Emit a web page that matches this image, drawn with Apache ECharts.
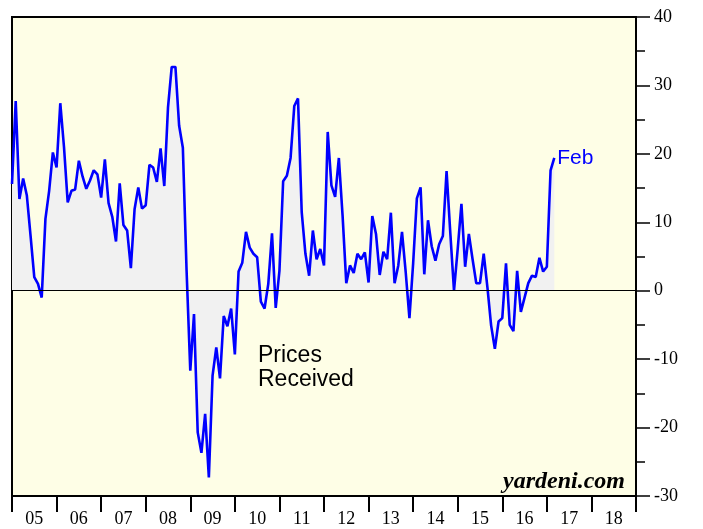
<!DOCTYPE html>
<html>
<head>
<meta charset="utf-8">
<script src="https://cdn.jsdelivr.net/npm/echarts@6/dist/echarts.min.js"></script>
<style>
  html, body { margin: 0; padding: 0; background: #ffffff; }
  #chart { width: 703px; height: 529px; }
</style>
</head>
<body>
<div id="chart"></div>
<script>
// year labels along the bottom (one slot per year, 2005..2018)
const yearLabels = ['05', '06', '07', '08', '09', '10', '11', '12', '13', '14', '15', '16', '17', '18']

// Prices Received index, monthly, month-end Dec 2004 .. Feb 2017
const pricesReceived = [
  15.6, 27.7, 13.4, 16.4, 13.9, 8.0, 2.0, 1.0, -1.0, 10.5, 14.6, 20.2, 18.0,
  27.4, 21.0, 12.9, 14.6, 14.8, 19.0, 16.7, 14.9, 16.1, 17.6, 17.0, 13.6,
  19.2, 12.8, 10.8, 7.2, 15.7, 9.6, 8.8, 3.3, 11.9, 15.1, 12.0, 12.5,
  18.4, 18.0, 15.9, 20.8, 15.3, 26.8, 32.7, 32.7, 24.1, 20.9, 3.0, -11.7,
  -3.4, -20.7, -23.7, -18.0, -27.3, -12.4, -8.3, -12.8, -3.7, -5.2, -2.6, -9.3,
  2.8, 4.1, 8.6, 6.3, 5.4, 4.9, -1.6, -2.6, 1.0, 8.4, -2.5, 2.9,
  16.0, 16.8, 19.4, 27.0, 28.1, 11.5, 5.4, 2.2, 8.8, 4.6, 6.1, 3.7,
  23.2, 15.4, 13.7, 19.4, 11.0, 1.1, 3.7, 2.6, 5.4, 4.6, 5.6, 1.2,
  10.9, 8.3, 2.3, 5.7, 4.6, 11.4, 1.1, 3.7, 8.6, 2.7, -4.0, 4.0,
  13.5, 15.1, 2.4, 10.3, 6.5, 4.4, 6.8, 8.0, 17.5, 8.5, 0.0, 6.1,
  12.7, 3.5, 8.3, 4.6, 1.1, 1.1, 5.4, 0.5, -5.1, -8.5, -4.5, -4.0,
  4.0, -5.0, -5.9, 2.9, -3.1, -1.0, 1.1, 2.2, 2.0, 4.8, 2.8, 3.5,
  17.6, 19.4
]

const yTicks = { min: -30, max: 40, step: 10 }
const lastLabel = 'Feb'

const serif = '"Liberation Serif", "DejaVu Serif", serif'
const sans = '"Liberation Sans", Arial, sans-serif'

// x = months since start (point 0 sits on the left edge)
const seriesData = pricesReceived.map((v, i) => [i, v])

const chart = echarts.init(document.getElementById('chart'), null, { renderer: 'canvas' })

chart.setOption({
  backgroundColor: '#ffffff',
  animation: false,
  grid: {
    left: 12, right: 67, top: 17, bottom: 33,
    show: true,
    backgroundColor: '#fefee6',
    borderColor: '#000000',
    borderWidth: 2
  },
  xAxis: [
    {
      type: 'value', min: 0, max: yearLabels.length * 12,
      show: false,
      axisLine: { onZero: false }
    },
    {
      type: 'category', data: yearLabels, position: 'bottom',
      boundaryGap: true,
      axisLine: { show: true, onZero: false, lineStyle: { color: '#000', width: 2 } },
      axisTick: { show: true, length: 16, lineStyle: { color: '#000', width: 2 } },
      axisLabel: { color: '#000', fontFamily: serif, fontSize: 18, margin: 14 },
      splitLine: { show: false }
    }
  ],
  yAxis: {
    type: 'value', position: 'right',
    min: yTicks.min, max: yTicks.max, interval: yTicks.step,
    axisLine: { show: true, onZero: false, lineStyle: { color: '#000', width: 2 } },
    axisTick: { show: true, length: 14, lineStyle: { color: '#000', width: 1.5 } },
    minorTick: { show: true, splitNumber: 2, length: 9, lineStyle: { color: '#000', width: 1.5 } },
    axisLabel: { color: '#000', fontFamily: serif, fontSize: 18, margin: 18 },
    splitLine: { show: false }
  },
  graphic: [
    {
      type: 'text', left: 258, top: 344,
      style: { text: 'Prices\nReceived', font: '23px ' + sans, fill: '#000', lineHeight: 24 }
    },
    {
      type: 'text', right: 78, top: 470,
      style: { text: 'yardeni.com', font: 'italic bold 24px ' + serif, fill: '#000' }
    }
  ],
  series: [{
    type: 'line',
    xAxisIndex: 0,
    data: seriesData,
    symbol: 'none',
    lineStyle: { color: '#0000ff', width: 2.6 },
    areaStyle: { color: '#f1f1f1', opacity: 1, origin: 0 },
    endLabel: {
      show: true, formatter: lastLabel, color: '#0000ff',
      fontFamily: sans, fontSize: 21, distance: 3
    },
    markLine: {
      silent: true, symbol: 'none',
      label: { show: false },
      lineStyle: { color: '#000', width: 1, type: 'solid' },
      data: [{ yAxis: 0 }]
    },
    z: 3
  }]
})
</script>
</body>
</html>
